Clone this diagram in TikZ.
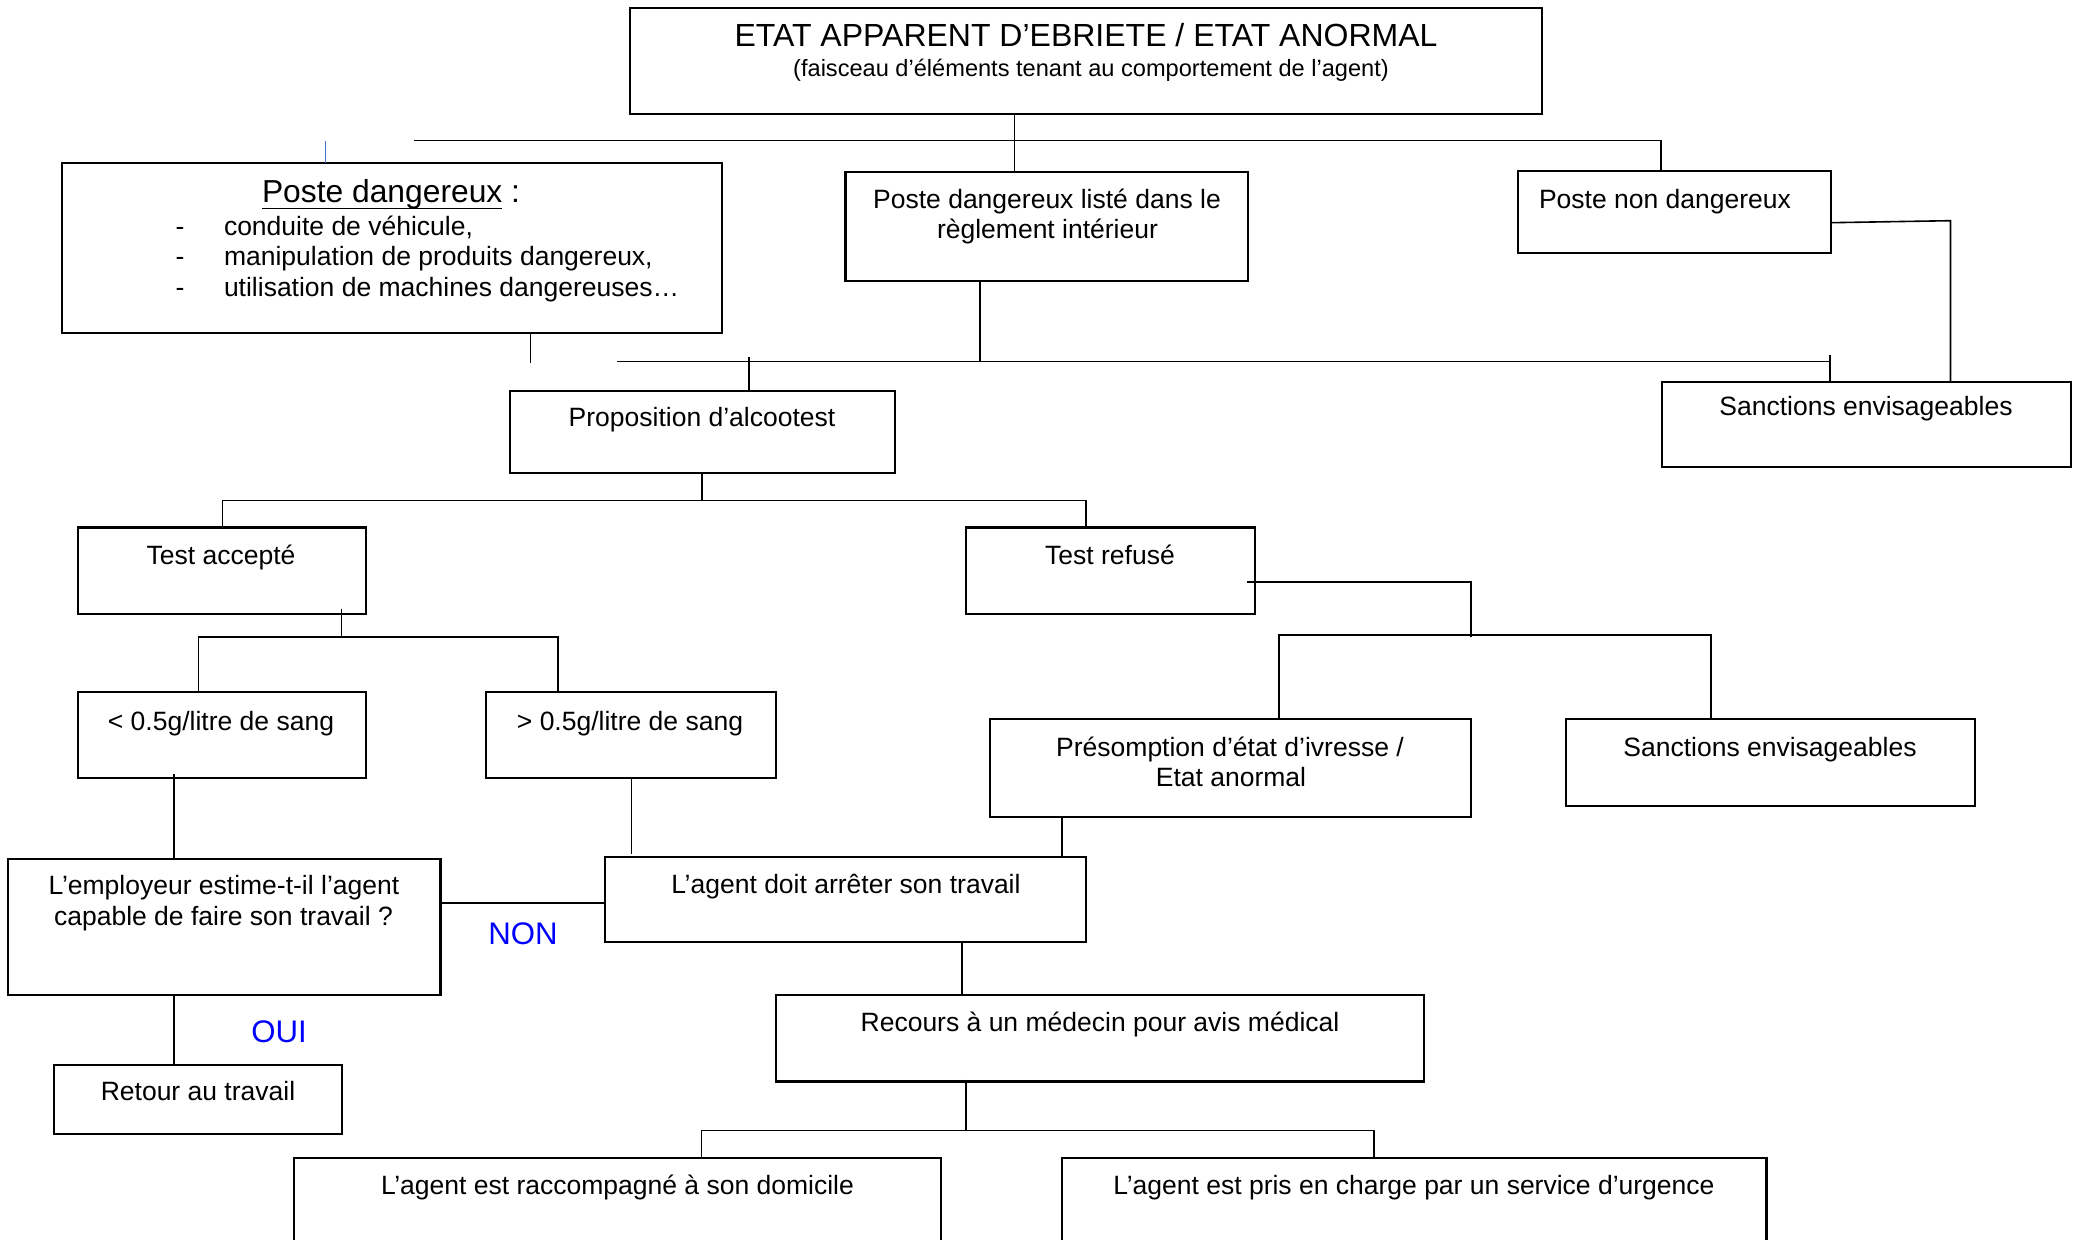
\documentclass[tikz,border=0pt]{standalone}
\usepackage{fontspec}
\setmainfont{Liberation Sans}
\usetikzlibrary{calc}
\begin{document}
\begin{tikzpicture}[x=0.5pt,y=-0.5pt,
  box/.style={draw, line width=1.05pt, inner sep=0pt, outer sep=0pt, anchor=north west},
  txt/.style={inner sep=0pt, outer sep=0pt, anchor=base, font=\fontsize{13.25pt}{15pt}\selectfont},
  con/.style={line width=0.8pt},
  yn/.style={inner sep=0pt, anchor=base, text=blue, font=\fontsize{15.6pt}{18pt}\selectfont}]
\useasboundingbox (0,0) rectangle (2076,1240);
\clip (0,0) rectangle (2076,1240);

% ---------- boxes ----------
\node[box, minimum width=456pt, minimum height=53pt] (top) at (630,8) {};
\node[box, minimum width=330pt, minimum height=85pt] (pd) at (62,163) {};
\node[box, minimum width=201.25pt, minimum height=54.5pt] (pdl) at (845.5,171.7) {};
\node[box, minimum width=156.65pt, minimum height=41.15pt] (pnd) at (1517.7,170.7) {};
\node[box, minimum width=204.15pt, minimum height=42.8pt] (sanc1) at (1662.4,381.7) {};
\node[box, minimum width=192.5pt, minimum height=41.05pt] (prop) at (510,390.6) {};
\node[box, minimum width=144pt, minimum height=43.25pt] (ta) at (78,527.5) {};
\node[box, minimum width=144.5pt, minimum height=43.25pt] (tr) at (966,527.5) {};
\node[box, minimum width=144pt, minimum height=43pt] (lt) at (78,692) {};
\node[box, minimum width=145pt, minimum height=43pt] (gt) at (486,692) {};
\node[box, minimum width=240.5pt, minimum height=49pt] (pres) at (990,719) {};
\node[box, minimum width=204.5pt, minimum height=43.5pt] (sanc2) at (1566,719) {};
\node[box, minimum width=216.4pt, minimum height=68.35pt] (emp) at (7.7,858.6) {};
\node[box, minimum width=240.3pt, minimum height=42.9pt] (stop) at (605.4,856.6) {};
\node[box, minimum width=144.15pt, minimum height=34.9pt] (ret) at (54,1064.6) {};
\node[box, minimum width=324.2pt, minimum height=43.1pt] (rec) at (776,995.3) {};
\node[box, minimum width=323.7pt, minimum height=51pt] (dom) at (294,1158) {};
\node[box, minimum width=352.25pt, minimum height=51pt] (urg) at (1062,1158) {};

% ---------- texts ----------
\node[txt, font=\fontsize{16pt}{19pt}\selectfont] (t1) at (1086,46.7) {ETAT APPARENT D’EBRIETE / ETAT ANORMAL};
\node[txt, font=\fontsize{11.8pt}{14pt}\selectfont] (t2) at (1091,77) {(faisceau d’éléments tenant au comportement de l’agent)};

\node[txt, anchor=base west, font=\fontsize{15.9pt}{19pt}\selectfont] (pdh) at (262,203) {Poste dangereux};
\node[txt, anchor=base west, font=\fontsize{15.9pt}{19pt}\selectfont] (pdc) at ($(pdh.base east)+(8.8,0)$) {:};
\draw[line width=0.75pt] ([yshift=-2.8pt]pdh.base west) -- ([yshift=-2.8pt]pdh.base east);
\node[txt] (d1) at (180,235.5) {-};
\node[txt] (d2) at (180,266) {-};
\node[txt] (d3) at (180,296.5) {-};
\node[txt, anchor=base west] (i1) at (224,235.5) {conduite de véhicule,};
\node[txt, anchor=base west] (i2) at (224,266) {manipulation de produits dangereux,};
\node[txt, anchor=base west] (i3) at (224,296.5) {utilisation de machines dangereuses…};

\node[txt] (pdl1) at (1047,208.6) {Poste dangereux listé dans le};
\node[txt] (pdl2) at (1047.5,238.5) {règlement intérieur};
\node[txt, anchor=base west] (pndt) at (1539,209) {Poste non dangereux};
\node[txt] (s1t) at (1866,416) {Sanctions envisageables};
\node[txt] (propt) at (702,427) {Proposition d’alcootest};
\node[txt] (tat) at (221,564) {Test accepté};
\node[txt] (trt) at (1110,564) {Test refusé};
\node[txt] (ltt) at (221,730.5) {< 0.5g/litre de sang};
\node[txt] (gtt) at (630,730.5) {> 0.5g/litre de sang};
\node[txt] (pr1) at (1230,756) {Présomption d’état d’ivresse /};
\node[txt] (pr2) at (1231,786.5) {Etat anormal};
\node[txt] (s2t) at (1770,756) {Sanctions envisageables};
\node[txt] (em1) at (224,894.5) {L’employeur estime-t-il l’agent};
\node[txt] (em2) at (223.5,925) {capable de faire son travail ?};
\node[txt] (stt) at (846,893) {L’agent doit arrêter son travail};
\node[txt] (rett) at (198,1100.5) {Retour au travail};
\node[txt] (rect) at (1100,1031.6) {Recours à un médecin pour avis médical};
\node[txt] (domt) at (617.5,1194) {L’agent est raccompagné à son domicile};
\node[txt] (urgt) at (1414,1194) {L’agent est pris en charge par un service d’urgence};
\node[yn] (non) at (523,944) {NON};
\node[yn] (oui) at (279,1042) {OUI};

% ---------- connectors ----------
\coordinate (ja) at (1014.6,140.7);
\coordinate (hL) at (414,140.7);
\coordinate (hR) at (1661,140.7);
\coordinate (bt) at (325,140.7);
\draw[con] (top.south -| ja) -- (pdl.north -| ja);
\draw[con] (hL) -- (hR) -- (pnd.north -| hR);
\draw[line width=0.5pt, color={rgb,255:red,68;green,114;blue,196}] (bt) -- (pd.north -| bt);

\coordinate (pdb) at (530.5,363);
\draw[con] (pd.south -| pdb) -- (pdb);
\coordinate (h2L) at (617,361.5);
\coordinate (h2R) at (1830,361.5);
\draw[con] (h2L) -- (h2R);
\coordinate (tk) at (1830,355);
\draw[con] (tk) -- (sanc1.north -| tk);
\coordinate (pv) at (980,362);
\draw[con] (pdl.south -| pv) -- (pv);
\coordinate (pp) at (749,357);
\draw[con] (pp) -- (prop.north -| pp);
\coordinate (pe) at (0,222.7);
\coordinate (pk) at (1950.5,220.7);
\draw[con] (pnd.east |- pe) -- (pk) -- (sanc1.north -| pk);

\coordinate (ph) at (702,500.4);
\coordinate (phL) at (222.4,500.4);
\coordinate (phR) at (1086,500.4);
\draw[con] (prop.south -| ph) -- (ph);
\draw[con] (ta.north -| phL) -- (phL) -- (phR) -- (tr.north -| phR);

\coordinate (tav) at (341.6,609.4);
\coordinate (tah) at (341.6,637);
\draw[con] (tav) -- (tah);
\coordinate (taL) at (198.5,637);
\coordinate (taR) at (557.7,637);
\draw[con] (lt.north -| taL) -- (taL) -- (taR) -- (gt.north -| taR);

\coordinate (ltv) at (174,774);
\draw[con] (ltv) -- (emp.north -| ltv);
\coordinate (gtv) at (631.4,854);
\draw[con] (gt.south -| gtv) -- (gtv);
\coordinate (ey) at (0,903);
\draw[con] (emp.east |- ey) -- (stop.west |- ey);
\draw[con] (emp.south -| ltv) -- (ret.north -| ltv);
\coordinate (sv) at (961.8,0);
\draw[con] (stop.south -| sv) -- (rec.north -| sv);
\coordinate (prv) at (1062,0);
\draw[con] (pres.south -| prv) -- (stop.north -| prv);

\coordinate (trs) at (1247,581.8);
\coordinate (trc) at (1471,581.8);
\coordinate (trd) at (1471,636.6);
\draw[con] (trs) -- (trc) -- (trd);
\coordinate (tL) at (1278.8,635);
\coordinate (tR) at (1711,635);
\draw[con] (pres.north -| tL) -- (tL) -- (tR) -- (sanc2.north -| tR);

\coordinate (rv) at (966,1079.6);
\coordinate (rh) at (966,1130.5);
\draw[con] (rv) -- (rh);
\coordinate (rL) at (701.5,1130.5);
\coordinate (rR) at (1374,1130.5);
\draw[con] (dom.north -| rL) -- (rL) -- (rR) -- (urg.north -| rR);
\end{tikzpicture}
\end{document}
